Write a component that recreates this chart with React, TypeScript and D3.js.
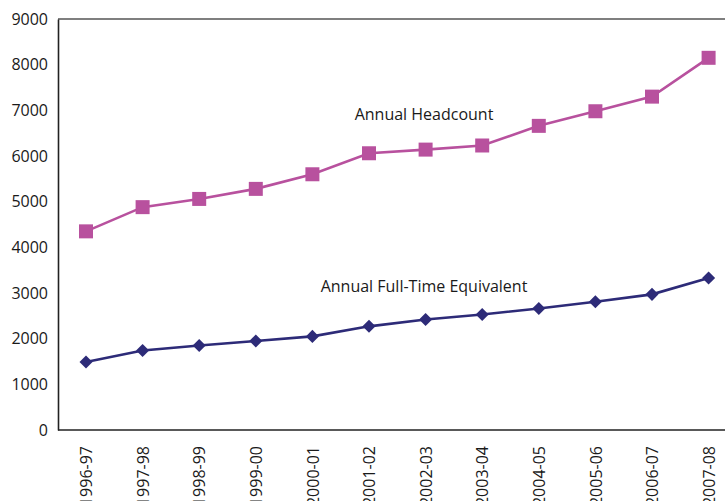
import * as d3 from "d3";
import { useEffect, useRef } from "react";

const YEARS = [
	"1996-97", "1997-98", "1998-99", "1999-00", "2000-01", "2001-02",
	"2002-03", "2003-04", "2004-05", "2005-06", "2006-07", "2007-08",
];
const HEADCOUNT = [4350, 4880, 5060, 5280, 5600, 6060, 6140, 6230, 6660, 6980, 7300, 8150];
const FTE = [1490, 1740, 1850, 1950, 2050, 2270, 2420, 2530, 2660, 2810, 2970, 3330];
const Y_TICKS = [0, 1000, 2000, 3000, 4000, 5000, 6000, 7000, 8000, 9000];

const WIDTH = 725;
const HEIGHT = 501;
const FONT = "'Open Sans', 'Noto Sans', sans-serif";

export default function App() {
	const svgRef = useRef<SVGSVGElement>(null);

	useEffect(() => {
		if (!svgRef.current) return;
		const svg = d3.select(svgRef.current);
		svg.selectAll("*").remove();

		const axisX = 58;
		const axisBottom = 430;
		const axisTop = 19;

		const x = d3.scalePoint().domain(YEARS).range([86, 708.6]);
		const y = d3.scaleLinear().domain([0, 9000]).range([axisBottom, axisTop]);

		// frame top line
		svg.append("line")
			.attr("x1", axisX).attr("x2", WIDTH)
			.attr("y1", axisTop).attr("y2", axisTop)
			.attr("stroke", "#555").attr("stroke-width", 1.6);

		// Y axis
		const yAxis = svg.append("g")
			.attr("transform", `translate(${axisX},0)`)
			.call(d3.axisLeft(y).tickValues(Y_TICKS).tickSize(0).tickPadding(10).tickFormat(d3.format("d")));
		yAxis.select(".domain").attr("stroke", "#222").attr("stroke-width", 1.6);
		yAxis.selectAll("text")
			.attr("font-size", "16px")
			.attr("font-family", FONT)
			.attr("fill", "#1a1a1a");

		// X axis
		const xAxis = svg.append("g")
			.attr("transform", `translate(0,${axisBottom})`)
			.call(d3.axisBottom(x).tickSize(0));
		xAxis.select(".domain").attr("d", `M${axisX},0H${WIDTH}`).attr("stroke", "#222").attr("stroke-width", 1.6);
		xAxis.selectAll("text")
			.attr("font-size", "16px")
			.attr("font-family", FONT)
			.attr("fill", "#1a1a1a")
			.attr("transform", "rotate(-90)")
			.attr("text-anchor", "end")
			.attr("x", -16)
			.attr("y", 0)
			.attr("dy", "0.35em");

		const series = [
			{ values: HEADCOUNT, color: "#b8519e", size: 196, rot: 0, label: "Annual Headcount", lx: 424, ly: 120 },
			{ values: FTE, color: "#2d2b78", size: 85, rot: 45, label: "Annual Full-Time Equivalent", lx: 424, ly: 292 },
		];

		series.forEach((s) => {
			const pts = s.values.map((v, i) => [x(YEARS[i])!, y(v)] as [number, number]);
			svg.append("path")
				.attr("d", d3.line()(pts))
				.attr("fill", "none")
				.attr("stroke", s.color)
				.attr("stroke-width", 2.6);
			svg.append("g")
				.selectAll("path")
				.data(pts)
				.enter()
				.append("path")
				.attr("transform", (d) => `translate(${d[0]},${d[1]}) rotate(${s.rot})`)
				.attr("d", d3.symbol().type(d3.symbolSquare).size(s.size)())
				.attr("fill", s.color);
			svg.append("text")
				.attr("x", s.lx)
				.attr("y", s.ly)
				.attr("text-anchor", "middle")
				.attr("font-size", "16px")
				.attr("font-family", FONT)
				.attr("fill", "#1a1a1a")
				.text(s.label);
		});
	}, []);

	return (
		<svg
			ref={svgRef}
			width={WIDTH}
			height={HEIGHT}
			style={{ position: "absolute", left: 0, top: 0, background: "#fff" }}
		/>
	);
}
